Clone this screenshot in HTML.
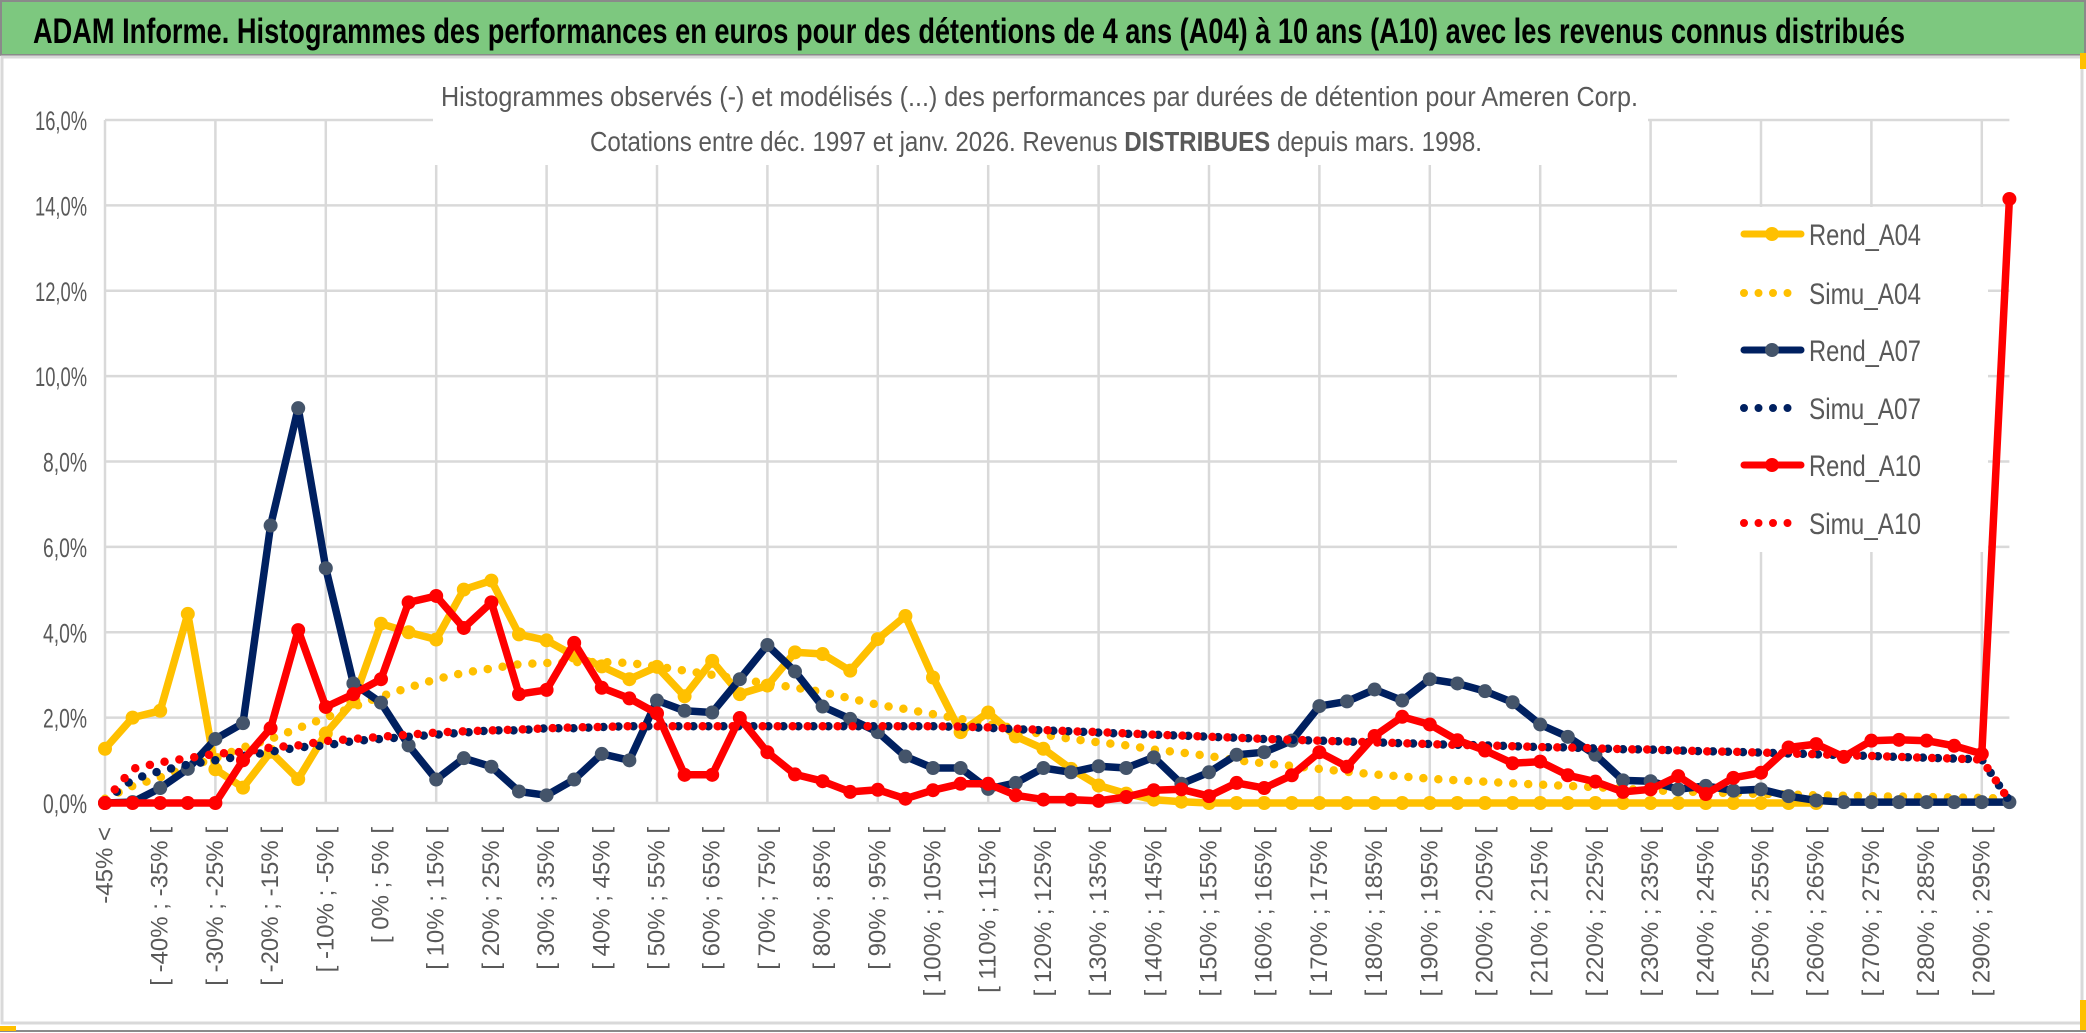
<!DOCTYPE html>
<html><head><meta charset="utf-8">
<style>
html,body{margin:0;padding:0;background:#fff;}
svg{display:block;}
</style></head>
<body>
<svg id="chart" xmlns="http://www.w3.org/2000/svg" width="2086" height="1033" viewBox="0 0 2086 1033">
  <rect x="0" y="0" width="2086" height="1033" fill="#ffffff"/>
  <rect x="1" y="1" width="2084" height="54" fill="#7dc87f" stroke="#8a8a8a" stroke-width="2"/>
  <text x="33" y="43" font-family="'Liberation Sans Narrow','Liberation Sans',sans-serif" font-weight="bold" font-size="35" fill="#000" textLength="1872" lengthAdjust="spacingAndGlyphs">ADAM Informe. Histogrammes des performances en euros pour des détentions de 4 ans (A04) à 10 ans (A10) avec les revenus connus distribués</text>
  <rect x="2" y="57" width="2080" height="966" fill="none" stroke="#d9d9d9" stroke-width="3"/>
  <line x1="0" y1="1031" x2="2086" y2="1031" stroke="#8a8a8a" stroke-width="2"/>
  <rect x="0" y="1026" width="16" height="5" fill="#ffc000"/>
  <rect x="2080" y="1000" width="6" height="30" fill="#ffc000"/>
  <rect x="2080" y="53" width="6" height="16" fill="#ffc000"/>
  <g id="grid"></g>
  <g id="ylabels"></g>
  <g id="xlabels"></g>
  <rect x="433" y="60" width="1215" height="105" fill="#fff"/>
  <text x="441" y="106" font-family="'Liberation Sans Narrow','Liberation Sans',sans-serif" font-size="28" fill="#595959" textLength="1197" lengthAdjust="spacingAndGlyphs">Histogrammes observés (-) et modélisés (...) des performances par durées de détention pour Ameren Corp.</text>
  <text x="590" y="151" font-family="'Liberation Sans Narrow','Liberation Sans',sans-serif" font-size="28" fill="#595959" textLength="892" lengthAdjust="spacingAndGlyphs">Cotations entre déc. 1997 et janv. 2026. Revenus <tspan font-weight="bold">DISTRIBUES</tspan> depuis mars. 1998.</text>
  <g id="series"></g>
  <rect x="1677" y="207" width="311" height="345" fill="#fff"/>
  <g id="legend"></g>
</svg>
<script>
// ---- data ----
const categories = [];
categories.push('-45% <');
for (let k = 1; k < 70; k++) { categories.push('[ ' + (-50 + 5 * k) + '% ; ' + (-45 + 5 * k) + '% ['); }
const yTicks = [0, 2, 4, 6, 8, 10, 12, 14, 16];
const yTickLabels = ['0,0%','2,0%','4,0%','6,0%','8,0%','10,0%','12,0%','14,0%','16,0%'];
const seriesNames = ['Rend_A04','Simu_A04','Rend_A07','Simu_A07','Rend_A10','Simu_A10'];
const rendA04 = [1.27,2.0,2.16,4.43,0.79,0.36,1.2,0.56,1.63,2.38,4.2,4.0,3.83,5.0,5.21,3.95,3.81,3.45,3.2,2.9,3.19,2.5,
  3.33,2.55,2.75,3.53,3.49,3.1,3.84,4.38,2.94,1.66,2.12,1.56,1.27,0.8,0.41,0.22,0.08,
  0.03,0,0,0,0,0,0,0,0,0,0,0,0,0,0,0,0,0,0,0,0,0,0,0,null,null,null,null,null,null,null];
const simuA04 = [0.1,0.4,0.6,0.85,1.05,1.3,1.5,1.75,2.0,2.25,
  2.5,2.7,2.9,3.05,3.15,3.25,3.28,3.3,3.3,3.28,
  3.2,3.1,3.0,2.9,2.8,2.7,2.6,2.45,2.3,2.2,
  2.08,1.97,1.85,1.75,1.6,1.5,1.42,1.35,1.25,1.18,
  1.1,1.0,0.93,0.87,0.8,0.73,0.67,0.62,0.57,0.53,
  0.5,0.46,0.43,0.4,0.37,0.33,0.3,0.27,0.25,0.23,
  0.21,0.2,0.18,0.17,0.16,0.15,0.14,0.13,0.12,0.1];
const rendA07 = [0,0.02,0.35,0.8,1.5,1.87,6.5,9.25,5.5,2.8,2.35,1.35,0.55,1.05,0.85,0.27,0.18,0.55,1.15,1.0,2.4,2.16,
  2.12,2.9,3.7,3.08,2.26,1.97,1.66,1.09,0.82,0.82,0.33,0.47,0.82,0.72,0.86,0.82,1.07,0.45,0.72,1.13,1.19,1.46,
  2.27,2.38,2.66,2.4,2.9,2.8,2.62,2.36,1.84,1.55,
  1.13,0.53,0.51,0.32,0.4,0.29,0.32,0.16,0.06,0.02,0.02,0.02,0.02,0.02,0.02,0.02];
const simuA07 = [0.05,0.55,0.75,0.9,1.0,1.1,1.2,1.3,1.35,1.45,
  1.5,1.55,1.6,1.65,1.7,1.7,1.75,1.75,1.78,1.8,
  1.8,1.8,1.8,1.8,1.8,1.8,1.8,1.8,1.8,1.8,
  1.8,1.78,1.76,1.73,1.7,1.68,1.65,1.62,1.6,1.58,
  1.55,1.53,1.5,1.48,1.46,1.44,1.42,1.4,1.38,1.36,
  1.35,1.33,1.31,1.3,1.28,1.26,1.25,1.23,1.21,1.2,
  1.18,1.16,1.14,1.12,1.1,1.08,1.06,1.04,1.02,0.05];
const rendA10 = [0,0,0,0,0,1.0,1.75,4.05,2.25,2.55,2.9,4.7,4.85,4.1,4.7,2.55,2.65,3.75,2.7,2.45,2.1,0.66,
  0.66,1.99,1.19,0.67,0.51,0.26,0.31,0.1,0.3,0.45,0.45,0.18,0.08,0.08,0.05,0.14,0.3,0.32,0.16,0.47,0.35,0.65,
  1.19,0.85,1.57,2.02,1.84,1.47,1.23,0.93,0.97,0.65,
  0.5,0.26,0.32,0.63,0.21,0.59,0.71,1.3,1.38,1.08,1.46,1.48,1.46,1.34,1.15,14.15];
const simuA10 = [0.05,0.8,0.95,1.05,1.15,1.2,1.3,1.35,1.45,1.5,
  1.55,1.6,1.65,1.68,1.7,1.72,1.75,1.77,1.78,1.8,
  1.8,1.8,1.8,1.8,1.8,1.8,1.8,1.8,1.8,1.8,
  1.8,1.79,1.77,1.74,1.71,1.68,1.66,1.63,1.6,1.58,
  1.55,1.53,1.5,1.48,1.46,1.44,1.42,1.4,1.38,1.36,
  1.35,1.33,1.31,1.3,1.28,1.26,1.25,1.23,1.21,1.2,
  1.18,1.16,1.14,1.12,1.1,1.08,1.06,1.04,1.02,0.05];

// ---- axes ----
const X0 = 105, XSTEP = 27.6, Y0 = 803, YTOP = 120, YMAX = 16;
function xScale(i) { return X0 + i * XSTEP; }
function yScale(v) { return Y0 - (v / YMAX) * (Y0 - YTOP); }
const NS = 'http://www.w3.org/2000/svg';
function mk(tag, attrs, parent) {
  const el = document.createElementNS(NS, tag);
  for (const k in attrs) el.setAttribute(k, attrs[k]);
  parent.appendChild(el);
  return el;
}
const grid = document.getElementById('grid');
const lastX = xScale(categories.length - 1);
yTicks.forEach((t, j) => {
  const l = mk('line', {x1: X0, x2: lastX, y1: yScale(t), y2: yScale(t), stroke: '#d9d9d9', 'stroke-width': 2.5}, grid);
  
  
});
for (let i = 0; i < categories.length; i += 4) {
  const l = mk('line', {x1: xScale(i), x2: xScale(i), y1: YTOP, y2: Y0, stroke: '#d9d9d9', 'stroke-width': 2.5}, grid);
  
  
}
const yl = document.getElementById('ylabels');
yTicks.forEach((t, j) => {
  const lab = yTickLabels[j];
  const tx = mk('text', {x: 87, y: yScale(t) + 10, 'text-anchor': 'end', 'font-family': "'Liberation Sans Narrow','Liberation Sans',sans-serif", 'font-size': 27, fill: '#595959', textLength: (lab.length > 4 ? 52 : 44), lengthAdjust: 'spacingAndGlyphs'}, yl);
  tx.textContent = lab;
  
  
});
const xl = document.getElementById('xlabels');
for (let i = 0; i < categories.length; i += 2) {
  const x = xScale(i), y = 827;
  const tx = mk('text', {x: x, y: y, transform: 'rotate(-90 ' + x + ' ' + y + ')', 'text-anchor': 'end', 'dominant-baseline': 'central', 'font-family': "'Liberation Sans',sans-serif", 'font-size': 24, fill: '#595959'}, xl);
  tx.textContent = categories[i];
  
  
}

// ---- series ----
const sg = document.getElementById('series');
function pathFor(vals) {
  let d = '', pen = false;
  vals.forEach((v, i) => {
    if (v === null) { pen = false; return; }
    d += (pen ? 'L' : 'M') + xScale(i).toFixed(1) + ',' + yScale(v).toFixed(1);
    pen = true;
  });
  return d;
}
function drawSolid(vals, color, markerFill, name) {
  const g = mk('g', {}, sg);
  
  
  const p = mk('path', {d: pathFor(vals), fill: 'none', stroke: color, 'stroke-width': 7.5, 'stroke-linejoin': 'round', 'stroke-linecap': 'round'}, g);
  
  
  vals.forEach((v, i) => {
    if (v === null) return;
    const c = mk('circle', {cx: xScale(i), cy: yScale(v), r: 7, fill: markerFill}, g);
    
    
  });
}
function drawDotted(vals, color, name) {
  const p = mk('path', {d: pathFor(vals), fill: 'none', stroke: color, 'stroke-width': 8.5, 'stroke-linecap': 'round', 'stroke-dasharray': '0 15'}, sg);
  
  
}
drawSolid(rendA04, '#ffc000', '#ffc000', 'rend-a04');
drawDotted(simuA04, '#ffc000', 'simu-a04');
drawSolid(rendA07, '#002060', '#44546a', 'rend-a07');
drawDotted(simuA07, '#002060', 'simu-a07');
drawSolid(rendA10, '#ff0000', '#ff0000', 'rend-a10');
drawDotted(simuA10, '#ff0000', 'simu-a10');

// ---- legend ----
const lg = document.getElementById('legend');
const legColors = ['#ffc000','#ffc000','#002060','#002060','#ff0000','#ff0000'];
const legMarker = ['#ffc000',null,'#44546a',null,'#ff0000',null];
const legY = [234, 293, 350, 408, 465, 523];
seriesNames.forEach((n, j) => {
  const y = legY[j];
  const g = mk('g', {}, lg);
  
  
  if (legMarker[j]) {
    mk('line', {x1: 1744, x2: 1801, y1: y, y2: y, stroke: legColors[j], 'stroke-width': 7, 'stroke-linecap': 'round'}, g);
    mk('circle', {cx: 1772, cy: y, r: 7, fill: legMarker[j]}, g);
  } else {
    mk('line', {x1: 1744, x2: 1801, y1: y, y2: y, stroke: legColors[j], 'stroke-width': 8, 'stroke-linecap': 'round', 'stroke-dasharray': '0 14.5'}, g);
  }
  const t = mk('text', {x: 1809, y: y + 11, 'font-family': "'Liberation Sans Narrow','Liberation Sans',sans-serif", 'font-size': 30, fill: '#595959', textLength: 112, lengthAdjust: 'spacingAndGlyphs'}, g);
  t.textContent = n;
  
  
});
</script>
</body></html>
